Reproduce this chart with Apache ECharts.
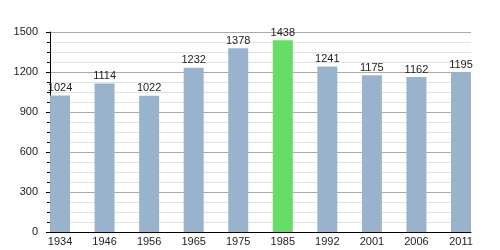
<!DOCTYPE html>
<html><head><meta charset="utf-8">
<script src="https://cdn.jsdelivr.net/npm/echarts@6/dist/echarts.min.js"></script>
<style>html,body{margin:0;padding:0;background:#fff}#c{width:500px;height:250px}</style>
</head><body><div id="c"></div>
<script>
var years = ['1934','1946','1956','1965','1975','1985','1992','2001','2006','2011'];
var population = [1024,1114,1022,1232,1378,1438,1241,1175,1162,1195];
var highlightYear = '1985';
var yTicks = [0,300,600,900,1200,1500];

var chart = echarts.init(document.getElementById('c'), null, {renderer:'canvas'});
var data = population.map(function(v,i){
  return {value:[i,v], itemStyle:{color: years[i]===highlightYear ? '#66dd66' : '#99b3cc'}};
});
chart.setOption({
  animation:false,
  grid:{left:50,right:29,top:32,bottom:18,containLabel:false},
  xAxis:{
    type:'value', min:-0.225, max:9.225,
    axisLine:{show:true,onZero:false,lineStyle:{color:'#000',width:1}},
    axisTick:{show:false},
    splitLine:{show:false},
    axisLabel:{
      customValues: years.map(function(_,i){return i;}),
      formatter:function(v){return years[Math.round(v)];},
      color:'#222', fontSize:11, fontFamily:'Liberation Sans, Arial, sans-serif', margin:4
    }
  },
  yAxis:{
    type:'value', min:yTicks[0], max:yTicks[yTicks.length-1], interval:300,
    axisLine:{show:true,onZero:false,lineStyle:{color:'#000',width:1}},
    axisTick:{show:true,inside:false,length:4,lineStyle:{color:'#000'}},
    minorTick:{show:true,splitNumber:4,length:3,lineStyle:{color:'#000'}},
    splitLine:{show:true,lineStyle:{color:'#aaaaaa',width:1}},
    minorSplitLine:{show:true,lineStyle:{color:'#e2e2e2',width:1}},
    axisLabel:{color:'#222',fontSize:11,fontFamily:'Liberation Sans, Arial, sans-serif',margin:12,
      formatter:function(v){return String(v);}}
  },
  series:[{
    type:'bar', barWidth:20, data:data,
    label:{show:true,position:'top',distance:2,color:'#222',fontSize:11,
      fontFamily:'Liberation Sans, Arial, sans-serif',
      formatter:function(p){return p.value[1];}}
  }]
});
</script></body></html>
